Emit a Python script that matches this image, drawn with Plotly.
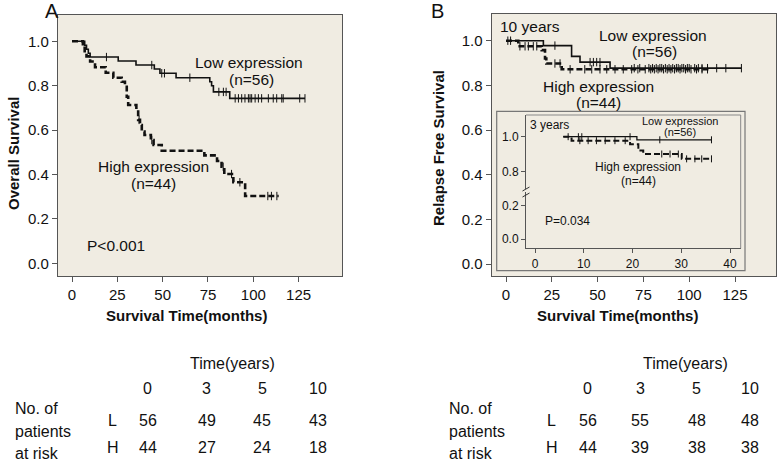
import plotly.graph_objects as go

W, H = 778, 460
BG = "#F0ECE2"
FONT = "Liberation Sans, Arial, sans-serif"
AX = "#555555"

# ---------------- Data ----------------
# Panel A: overall survival
a_low_t = [0, 7, 8, 9, 10, 25.5, 35.3, 45.4, 48.5, 57.4, 76, 77, 78, 87, 128.5]
a_low_s = [1.0, 0.982, 0.964, 0.946, 0.929, 0.911, 0.893, 0.875, 0.856, 0.836, 0.818, 0.800, 0.772, 0.743, 0.743]
a_low_cens_t = [19, 44, 49.5, 51, 65, 81, 83.5, 85, 90, 91.8, 93.6, 95.4, 97.3, 98.2, 99.1, 101, 102.8,
                104.6, 108.3, 111, 112.9, 115.7, 116.5, 125.6, 128.5]

a_high_t = [0, 6, 7, 8, 10, 12.7, 18.6, 22.8, 27.4, 29.2, 30.2, 31, 35.5, 36.5, 37.5, 38.5, 40, 43.5,
            45, 49.5, 73, 80, 82.5, 84, 89, 95.5, 114]
a_high_s = [1.0, 0.977, 0.955, 0.932, 0.909, 0.883, 0.858, 0.836, 0.818, 0.795, 0.75, 0.713, 0.69,
            0.646, 0.623, 0.593, 0.578, 0.555, 0.533, 0.507, 0.486, 0.461, 0.435, 0.402, 0.365, 0.303, 0.303]
a_high_cens_t = [37, 44, 83.4, 88, 92.6, 108, 110, 113]

# Panel B: relapse free survival (10 years)
b_low_t = [0, 20.4, 35.8, 40.4, 56.8, 128.5]
b_low_s = [1.0, 0.978, 0.93, 0.904, 0.877, 0.877]
b_low_cens_t = [1, 2.5, 26.7, 45.9, 47.7, 49.5, 51.3, 70, 73, 78, 80, 82, 84, 85, 87, 89, 91, 93, 94,
                96, 97, 99, 100, 103, 105, 107, 110, 115, 120, 128.5]

b_high_t = [0, 6.7, 19.5, 21.3, 22, 30.4, 111]
b_high_s = [1.0, 0.975, 0.958, 0.92, 0.898, 0.872, 0.872]
b_high_cens_t = [7.6, 10.4, 12.2, 14.9, 16.8, 26.7, 29.5, 35, 43, 46.8, 51.3, 55, 59.5, 64, 68.6, 72,
                 76, 79, 81, 83, 86, 88, 90, 92, 95, 98, 101, 104, 107, 110]

# Inset: 3 years
c_low_t = [5.8, 20.9, 36.2]
c_low_s = [1.0, 0.982, 0.982]
c_low_cens_t = [6.8, 8.9, 9.6, 19.5, 25.6, 36.2]

c_high_t = [5.8, 7.5, 19.5, 21.2, 22.2, 30.1, 36.2]
c_high_s = [1.0, 0.977, 0.957, 0.92, 0.9, 0.872, 0.872]
c_high_cens_t = [9.2, 10.9, 12.6, 14.4, 16.4, 18.5, 26, 27.7, 29.4, 31.1, 32.8, 34.2, 36.2]

# Risk tables
risk_years = ["0", "3", "5", "10"]
a_risk_L = [56, 49, 45, 43]
a_risk_H = [44, 27, 24, 18]
b_risk_L = [56, 55, 48, 48]
b_risk_H = [44, 39, 38, 38]

main_xticks = [0, 25, 50, 75, 100, 125]
main_yticks = [0.0, 0.2, 0.4, 0.6, 0.8, 1.0]
inset_xticks = [0, 10, 20, 30, 40]


# ---------------- helpers ----------------
def px(x):
    return x / W


def py(y):
    return 1 - y / H


def step_at(ts, ss, t):
    v = ss[0]
    for ti, si in zip(ts, ss):
        if ti <= t:
            v = si
    return v


fig = go.Figure()


def add_curve(ts, ss, cens, xa, ya, dashed, width, msize):
    line = dict(color="#111111", width=width, shape="hv")
    if dashed:
        line["dash"] = "6px,3px"
    fig.add_trace(go.Scatter(x=ts, y=ss, mode="lines", line=line, xaxis=xa, yaxis=ya,
                             hoverinfo="skip", showlegend=False))
    fig.add_trace(go.Scatter(x=cens, y=[step_at(ts, ss, t) for t in cens], mode="markers",
                             marker=dict(symbol="line-ns-open", size=msize, color="#111111",
                                         line=dict(color="#111111", width=1)),
                             xaxis=xa, yaxis=ya, hoverinfo="skip", showlegend=False))


add_curve(a_low_t, a_low_s, a_low_cens_t, "x", "y", False, 1.6, 6)
add_curve(a_high_t, a_high_s, a_high_cens_t, "x", "y", True, 2.6, 6)
add_curve(b_low_t, b_low_s, b_low_cens_t, "x2", "y2", False, 1.6, 6)
add_curve(b_high_t, b_high_s, b_high_cens_t, "x2", "y2", True, 2.6, 6)
add_curve(c_low_t, c_low_s, c_low_cens_t, "x3", "y3", False, 1.3, 5)
add_curve(c_high_t, c_high_s, c_high_cens_t, "x3", "y3", True, 2.0, 5)
# empty trace so that the lower (broken) inset axis exists
fig.add_trace(go.Scatter(x=[], y=[], xaxis="x3", yaxis="y4", mode="lines", hoverinfo="skip",
                         showlegend=False))

tickfont = dict(family=FONT, size=15, color="#111111")
small_tick = dict(family=FONT, size=12, color="#111111")

main_ax = dict(showline=True, linecolor=AX, linewidth=1.3, mirror=True, ticks="outside",
               ticklen=5, tickcolor=AX, tickwidth=1.3, showgrid=False, zeroline=False,
               tickfont=tickfont)
inset_ax = dict(showline=True, linecolor=AX, linewidth=1, ticks="outside", ticklen=4, tickcolor=AX,
                showgrid=False, zeroline=False, tickfont=small_tick)

XA_R = 342
fig.update_layout(
    width=W, height=H, margin=dict(l=0, r=0, t=0, b=0),
    paper_bgcolor="white", plot_bgcolor=BG, showlegend=False,
    xaxis=dict(domain=[px(58), px(XA_R)], range=[-14 / 1.813, (XA_R - 72) / 1.813], anchor="y",
               tickvals=main_xticks, **main_ax),
    yaxis=dict(domain=[py(276), py(15)], range=[-12.7 / 222, 1 + 26.3 / 222], anchor="x",
               tickvals=main_yticks, tickformat=".1f", **main_ax),
    xaxis2=dict(domain=[px(491.7), px(776)], range=[-14.3 / 1.832, (776 - 506) / 1.832], anchor="y2",
                tickvals=main_xticks, **main_ax),
    yaxis2=dict(domain=[py(276), py(14)], range=[-12 / 223.3, 1 + 26.7 / 223.3], anchor="x2",
                tickvals=main_yticks, tickformat=".1f", **main_ax),
    xaxis3=dict(domain=[px(526), px(740.7)], range=[-9 / 4.875, (740.7 - 535) / 4.875], anchor="y4",
                tickvals=inset_xticks, **inset_ax),
    yaxis3=dict(domain=[py(189), py(115)], range=[0.8 - 17.7 / 173, 1 + 21.7 / 173], anchor="x3",
                tickvals=[0.8, 1.0], tickformat=".1f", **inset_ax),
    yaxis4=dict(domain=[py(248.3), py(191.5)], range=[-9.3 / 166.5, 0.2 + 14.2 / 166.5], anchor="x3",
                tickvals=[0.0, 0.2], tickformat=".1f", **inset_ax),
)

shapes = [
    # inset outer box
    dict(type="rect", xref="paper", yref="paper", x0=px(496.7), x1=px(745), y0=py(270.7), y1=py(111.3),
         fillcolor=BG, line=dict(color="#777777", width=1.2), layer="below"),
    # inset inner frame top and right
    dict(type="line", xref="paper", yref="paper", x0=px(526), x1=px(740.7), y0=py(115), y1=py(115),
         line=dict(color="#888888", width=1)),
    dict(type="line", xref="paper", yref="paper", x0=px(740.7), x1=px(740.7), y0=py(115), y1=py(248.3),
         line=dict(color="#888888", width=1)),
    # axis break marks
    dict(type="line", xref="paper", yref="paper", x0=px(522.5), x1=px(529.5), y0=py(191), y1=py(187),
         line=dict(color="#333333", width=1)),
    dict(type="line", xref="paper", yref="paper", x0=px(522.5), x1=px(529.5), y0=py(197), y1=py(193),
         line=dict(color="#333333", width=1)),
]
fig.update_layout(shapes=shapes)


def txt(x, y, s, size=15.5, bold=False, angle=0, xanchor="center"):
    fig.add_annotation(x=px(x), y=py(y), xref="paper", yref="paper", text=("<b>%s</b>" % s) if bold else s,
                       showarrow=False, xanchor=xanchor, yanchor="middle", textangle=angle,
                       font=dict(family=FONT, size=size, color="#111111"))


# panel letters
txt(43, 11, "A", size=20, xanchor="left")
txt(429, 11, "B", size=20, xanchor="left")

# axis titles
txt(13, 154, "Overall Survival", size=15, bold=True, angle=-90)
txt(186, 315, "Survival Time(months)", size=15, bold=True)
txt(438.5, 148.5, "Relapse Free Survival", size=15, bold=True, angle=-90)
txt(617.5, 315, "Survival Time(months)", size=15, bold=True)

# panel A annotations
txt(249.5, 63, "Low expression")
txt(251.7, 79, "(n=56)")
txt(153.5, 166.5, "High expression")
txt(153.3, 183, "(n=44)")
txt(85, 245, "P&lt;0.001", xanchor="left")

# panel B annotations
txt(498, 27, "10 years", xanchor="left")
txt(652.8, 35.5, "Low expression")
txt(654.5, 51.7, "(n=56)")
txt(598, 86, "High expression")
txt(598, 102, "(n=44)")

# inset annotations
txt(528, 125, "3 years", size=12, xanchor="left")
txt(679.7, 120.5, "Low expression", size=11)
txt(679.5, 132.3, "(n=56)", size=11)
txt(638, 166.5, "High expression", size=12)
txt(638, 180.7, "(n=44)", size=12)
txt(543, 221, "P=0.034", size=12, xanchor="left")


# risk tables
def risk_table(title_x, col_x, L, Hh, lab_x, letter_x):
    txt(title_x, 363, "Time(years)", size=16)
    for cx, yr in zip(col_x, risk_years):
        txt(cx, 388.3, yr, size=16)
    txt(lab_x, 408, "No. of", size=16, xanchor="left")
    txt(lab_x, 431.5, "patients", size=16, xanchor="left")
    txt(lab_x, 453, "at risk", size=16, xanchor="left")
    txt(letter_x, 420, "L", size=16)
    txt(letter_x, 447, "H", size=16)
    for cx, v in zip(col_x, L):
        txt(cx, 420, str(v), size=16)
    for cx, v in zip(col_x, Hh):
        txt(cx, 447, str(v), size=16)


risk_table(232, [147.5, 206.7, 262.3, 318.3], a_risk_L, a_risk_H, 13, 112.5)
risk_table(685, [587.5, 640, 696.5, 750], b_risk_L, b_risk_H, 446.7, 551.7)

fig.write_html("out.html", config={"displayModeBar": False},
               post_script="document.body.style.margin='0px';document.body.style.overflow='hidden';")
